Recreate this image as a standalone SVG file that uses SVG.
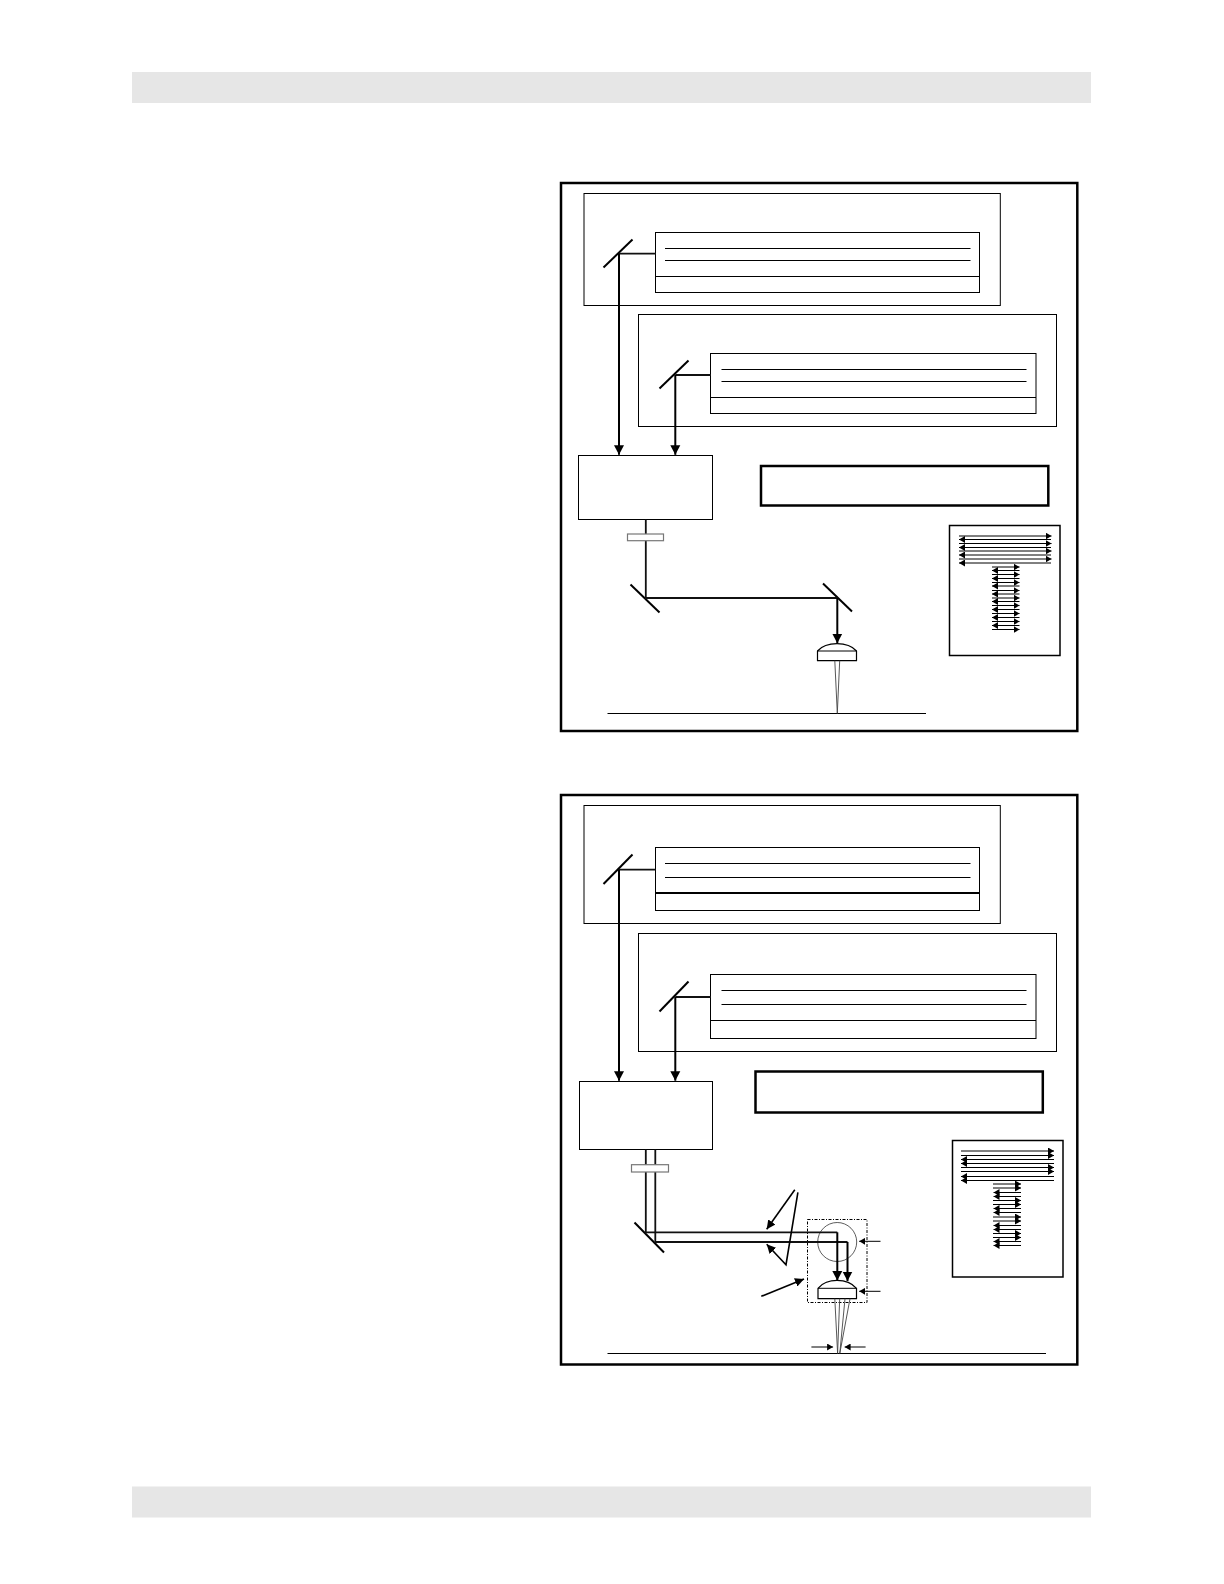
<svg xmlns="http://www.w3.org/2000/svg" width="1224" height="1584" viewBox="0 0 1224 1584">
<style>
.bar{fill:#e6e6e6;stroke:none}
.f{fill:#fff;stroke:#000;stroke-width:1}
.fr{fill:none;stroke:#000;stroke-width:2.5}
.tk{fill:#fff;stroke:#000;stroke-width:2.500}
.sf{fill:none;stroke:#000;stroke-width:1.5}
.l{stroke:#000;stroke-width:1;fill:none}
.m{stroke:#000;stroke-width:2;fill:none}
.b{stroke:#111;stroke-width:1.8;fill:none}
.a{stroke:#000;stroke-width:2;fill:none;marker-end:url(#big)}
.c{stroke:#000;stroke-width:1.6;fill:none;marker-end:url(#mid)}
.p{stroke:#000;stroke-width:1;fill:none;marker-end:url(#sm)}
.ln{fill:#fff;stroke:#000;stroke-width:1.2}
.wp{fill:#fff;stroke:#777;stroke-width:1.2}
.bm{fill:none;stroke:#444;stroke-width:.9}
</style>
<defs>
<marker id="big" markerUnits="userSpaceOnUse" markerWidth="11" markerHeight="11" refX="9.500" refY="5.500" orient="auto"><path d="M0 .5L9.500 5.500L0 10.500Z"/></marker>
<marker id="mid" markerUnits="userSpaceOnUse" markerWidth="10" markerHeight="9" refX="9" refY="4.500" orient="auto"><path d="M0 0L9 4.500L0 9Z"/></marker>
<marker id="sm" markerUnits="userSpaceOnUse" markerWidth="6" markerHeight="7" refX="6" refY="3.500" orient="auto"><path d="M0 0L6 3.500L0 7Z"/></marker>
</defs>
<rect class="bar" x="132" y="72" width="959" height="31"/>
<rect class="bar" x="132" y="1486.500" width="959" height="31"/>

<g id="panel-a">
<rect class="fr" x="561" y="183" width="516.300" height="548"/>
<g id="a-laser-1"><rect class="f" x="584" y="193.500" width="416.300" height="112"/><rect class="f" x="655.500" y="232.500" width="324" height="60"/><path class="l" d="M655.500 276.500H979.500M665 248.500H970.500M665 260.500H970.500"/><path class="m" d="M603.500 267.500L632.500 239.500"/></g>
<g id="a-laser-2"><rect class="f" x="638.500" y="314.500" width="418" height="112"/><rect class="f" x="710.500" y="353.500" width="325.500" height="60"/><path class="l" d="M710.500 397.500H1036M721.500 369.500H1026.500M721.500 381.500H1026.500"/><path class="m" d="M659.500 388.500L688.500 360.500"/></g>
<g id="a-combiner"><rect class="f" x="578.500" y="455.500" width="134" height="64"/></g>
<g id="a-title"><rect class="tk" x="761" y="466" width="287.300" height="39.500"/></g>
<g id="a-mirror-1"><path class="m" d="M630.500 584.500L659.500 612.500"/></g>
<g id="a-mirror-2"><path class="m" d="M823 583.500L852 611.500"/></g>
<g id="a-surface"><path class="l" d="M607.500 713.500H926"/></g>
<g id="a-pattern"><rect class="sf" x="949.500" y="525.500" width="110.500" height="130"/>
<path class="p" d="M959 536H1051.500"/><path class="p" d="M1051 539.500H959"/><path class="p" d="M959 543.500H1051.500"/><path class="p" d="M1051 547.500H959"/><path class="p" d="M959 551H1051.500"/><path class="p" d="M1051 555H959"/><path class="p" d="M959 559H1051.500"/><path class="p" d="M1051 563H959"/>
<path class="p" d="M992 567H1019.500"/><path class="p" d="M1019.500 570.500H992"/><path class="p" d="M992 574.500H1019.500"/><path class="p" d="M1019.500 578.500H992"/><path class="p" d="M992 582.500H1019.500"/><path class="p" d="M1019.500 586H992"/><path class="p" d="M992 590.500H1019.500"/><path class="p" d="M1019.500 594H992"/><path class="p" d="M992 598H1019.500"/><path class="p" d="M1019.500 601.500H992"/><path class="p" d="M992 605.500H1019.500"/><path class="p" d="M1019.500 609.500H992"/><path class="p" d="M992 613.500H1019.500"/><path class="p" d="M1019.500 617.500H992"/><path class="p" d="M992 621.500H1019.500"/><path class="p" d="M1019.500 625.500H992"/><path class="p" d="M992 629.500H1019.500"/></g>
</g>

<g id="panel-b">
<rect class="fr" x="561" y="795" width="516.300" height="569.500"/>
<g id="b-laser-1"><rect class="f" x="584" y="805.500" width="416.300" height="118"/><rect class="f" x="655.500" y="847.500" width="324" height="63"/><path class="l" d="M665 863.500H970.500M665 877.500H970.500"/><path d="M655.500 893H979.500" stroke="#000" stroke-width="2"/><path class="m" d="M603.500 884L632.500 854.500"/></g>
<g id="b-laser-2"><rect class="f" x="638.500" y="933.500" width="418" height="118"/><rect class="f" x="710.500" y="974.500" width="325.500" height="64"/><path class="l" d="M710.500 1020.500H1036M721.500 990.500H1026.500M721.500 1004.500H1026.500"/><path class="m" d="M659.500 1011.500L688.500 981.500"/></g>
<g id="b-combiner"><rect class="f" x="579.500" y="1081.500" width="133" height="68"/></g>
<g id="b-title"><rect class="tk" x="755.500" y="1071.500" width="287.300" height="41"/></g>
<g id="b-mirror"><path class="m" d="M634.500 1222.500L664 1252.500"/></g>
<g id="b-surface"><path class="l" d="M607.500 1353.500H1046"/></g>
<g id="b-pattern"><rect class="sf" x="952.500" y="1140.500" width="110.500" height="136.500"/>
<path class="p" d="M961 1151H1054"/><path class="p" d="M961 1155.500H1054"/><path class="p" d="M1054 1159.500H961"/><path class="p" d="M1054 1163.500H961"/><path class="p" d="M961 1167.500H1054"/><path class="p" d="M961 1171.500H1054"/><path class="p" d="M1054 1176.500H961"/><path class="p" d="M1054 1180.500H961"/>
<path class="p" d="M993 1184H1021"/><path class="p" d="M993 1188H1021"/><path class="p" d="M1021 1192.500H993.500"/><path class="p" d="M1021 1196.500H993.500"/><path class="p" d="M993 1200.500H1021"/><path class="p" d="M993 1204.500H1021"/><path class="p" d="M1021 1208.500H993.500"/><path class="p" d="M1021 1212.500H993.500"/><path class="p" d="M993 1217H1021"/><path class="p" d="M993 1221H1021"/><path class="p" d="M1021 1225.500H993.500"/><path class="p" d="M1021 1229.500H993.500"/><path class="p" d="M993 1233.500H1021"/><path class="p" d="M993 1237.500H1021"/><path class="p" d="M1021 1241.500H993.500"/><path class="p" d="M1021 1245.500H993.500"/></g>
<g id="b-head"><rect x="807.500" y="1219.500" width="59.500" height="83" fill="none" stroke="#000" stroke-width="1" stroke-dasharray="3 1.500 1 1.500"/><circle cx="837.200" cy="1242" r="19.500" fill="none" stroke="#333" stroke-width=".8"/></g>
</g>

<g id="connectors">
<path class="b" d="M619 253.700H656"/>
<path class="a" d="M619 253.700V454.800"/>
<path class="b" d="M675.300 375H711"/><path class="a" d="M675.300 375V454.800"/>
<path class="b" d="M645.800 519.500V598H837.500"/><path class="a" d="M837.300 598V643.200"/>
<path class="b" d="M619 869.700H655.500"/><path class="a" d="M619 869.700V1080.700"/>
<path class="b" d="M675.300 997H711"/><path class="a" d="M675.300 997V1080.700"/>
<path class="b" d="M645.800 1149.500V1232.300H837.300"/><path class="b" d="M655.300 1149.500V1242H847.500"/>
<path class="a" d="M837.300 1232.300V1280.500"/><path class="a" d="M847.500 1242V1281"/>
<path class="c" d="M794.800 1189.700L766.700 1229.300"/><path class="c" d="M797.900 1192.300L786 1264.700L766.700 1244.300"/>
<path class="c" d="M761.300 1296.300L804 1279"/>
<path class="p" d="M880.500 1241.300H859.200"/><path class="p" d="M880.500 1291.300H859.200"/>
<path class="p" d="M811.400 1347H833.100"/><path class="p" d="M865.600 1347H844.600"/>
</g>

<g id="a-optics">
<rect class="wp" x="627.500" y="534" width="36" height="6.700"/>
<path class="ln" d="M817.500 651C822 646 830 643.700 837 643.700S852 646 856.500 651V660.700H817.500Z"/><path class="l" d="M817.500 651H856.500"/>
<path class="bm" d="M834.800 660.700L837.300 713.300L839.700 660.700"/>
</g>
<g id="b-optics">
<rect class="wp" x="631.500" y="1164.700" width="37" height="7.300"/>
<path class="ln" d="M818 1288.300C822 1283 830 1280.300 837 1280.300S852 1283 856.500 1288.300V1298.700H818Z" stroke-width="1.500"/><path class="l" d="M818 1288.300H856.500" stroke-width="1.500"/>
<path class="bm" d="M834.800 1298.700L837.600 1353.300L839.700 1298.700"/><path class="bm" d="M845 1298.700L839.800 1353.300L850 1298.700"/>
</g>
</svg>
